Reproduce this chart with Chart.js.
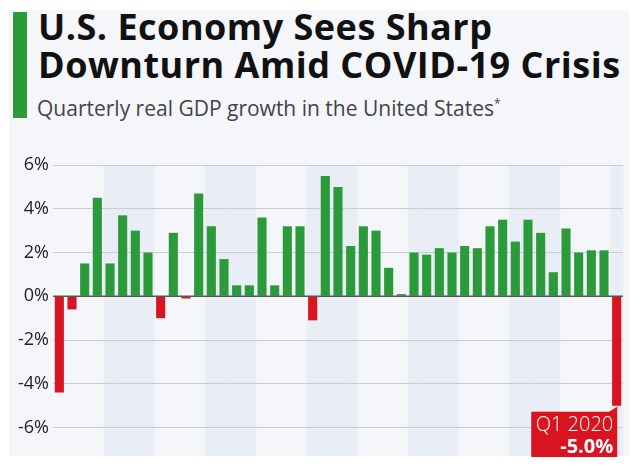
<!DOCTYPE html>
<html>
<head>
<meta charset="utf-8">
<script src="https://cdn.jsdelivr.net/npm/chart.js@4"></script>
<style>
  html, body { margin: 0; padding: 0; background: #fff; }
  body { width: 640px; height: 467px; position: relative; overflow: hidden; font-family: "Open Sans", sans-serif; }
  #card { position: absolute; left: 9px; top: 10px; width: 620px; height: 446px; background: #f4f6fa; }
  #bar { position: absolute; left: 13px; top: 12px; width: 14px; height: 106px; background: #2b9a3a; }
  #title { position: absolute; left: 38px; top: 8px; margin: 0; font-weight: 700; font-size: 36px; line-height: 38px; color: #111; letter-spacing: 0.5px; white-space: nowrap; }
  #subtitle { position: absolute; left: 37px; top: 94px; margin: 0; font-weight: 400; font-size: 21px; color: #444; white-space: nowrap; }
  #subtitle sup { font-size: 12px; vertical-align: 8px; }
  #wrap { position: absolute; left: 0; top: 130px; width: 640px; height: 337px; }
</style>
</head>
<body>
<div id="card"></div>
<div id="bar"></div>
<h1 id="title">U.S. Economy Sees Sharp<br>Downturn Amid COVID-19 Crisis</h1>
<p id="subtitle">Quarterly real GDP growth in the United States<sup>*</sup></p>
<div id="wrap"><canvas id="gdp-chart"></canvas></div>
<script>
// quarters from Q1 2009 to Q1 2020
const years = [2009, 2010, 2011, 2012, 2013, 2014, 2015, 2016, 2017, 2018, 2019, 2020];
const quarters = [];
years.forEach((y) => {
  ["Q1", "Q2", "Q3", "Q4"].forEach((q) => {
    if (quarters.length < 45) quarters.push(q + " " + y);
  });
});

const growth = [
  -4.4, -0.6, 1.5, 4.5,
  1.5, 3.7, 3.0, 2.0,
  -1.0, 2.9, -0.1, 4.7,
  3.2, 1.7, 0.5, 0.5,
  3.6, 0.5, 3.2, 3.2,
  -1.1, 5.5, 5.0, 2.3,
  3.2, 3.0, 1.3, 0.1,
  2.0, 1.9, 2.2, 2.0,
  2.3, 2.2, 3.2, 3.5,
  2.5, 3.5, 2.9, 1.1,
  3.1, 2.0, 2.1, 2.1,
  -5.0,
];

const yTicks = [-6, -4, -2, 0, 2, 4, 6];
const shadedYears = [2010, 2012, 2014, 2016, 2018, 2020];

const green = "#2b9a3a";
const red = "#d7141f";

// alternating year bands behind the bars
const bandPlugin = {
  id: "bands",
  beforeDraw(chart) {
    const { ctx, chartArea, scales } = chart;
    const x = scales.x;
    const half = (x.getPixelForValue(1) - x.getPixelForValue(0)) / 2;
    ctx.save();
    ctx.fillStyle = "#e9edf5";
    quarters.forEach((q, i) => {
      const yr = parseInt(q.split(" ")[1]);
      if (shadedYears.includes(yr)) {
        const left = x.getPixelForValue(i) - half;
        ctx.fillRect(left, chartArea.top, half * 2 + 0.5, chartArea.bottom - chartArea.top);
      }
    });
    ctx.restore();
  },
  afterDatasetsDraw(chart) {
    const { ctx, chartArea, scales } = chart;
    const y0 = scales.y.getPixelForValue(0);
    ctx.save();
    ctx.strokeStyle = "#555";
    ctx.lineWidth = 1.5;
    ctx.beginPath();
    ctx.moveTo(chartArea.left, y0);
    ctx.lineTo(chartArea.right, y0);
    ctx.stroke();

    // callout for the last quarter
    const last = growth.length - 1;
    const bar = chart.getDatasetMeta(0).data[last];
    const right = bar.x + bar.width / 2 - 4;
    const top = bar.y + 6;
    const w = 86;
    const h = chartArea.bottom - top + 1;
    ctx.fillStyle = red;
    ctx.fillRect(right - w, top, w, h);
    ctx.beginPath();
    ctx.moveTo(right - 9, top + 0.5);
    ctx.lineTo(right, top - 5);
    ctx.lineTo(right, top + 0.5);
    ctx.closePath();
    ctx.fill();
    ctx.fillStyle = "#fff";
    ctx.textAlign = "right";
    ctx.textBaseline = "alphabetic";
    ctx.font = "300 20px 'Open Sans'";
    ctx.fillText(quarters[last], right - 4, top + 19);
    ctx.font = "700 20px 'Open Sans'";
    ctx.fillText(growth[last].toFixed(1) + "%", right - 4, top + 41);
    ctx.restore();
  },
};

new Chart(document.querySelector("#gdp-chart").getContext("2d"), {
  type: "bar",
  data: {
    labels: quarters,
    datasets: [
      {
        label: "Real GDP growth",
        data: growth,
        backgroundColor: growth.map((v) => (v < 0 ? red : green)),
        barPercentage: 0.72,
        categoryPercentage: 1,
      },
    ],
  },
  options: {
    responsive: true,
    maintainAspectRatio: false,
    animation: false,
    layout: { padding: { top: 35, right: 17, bottom: 11, left: 0 } },
    plugins: {
      legend: { display: false },
      tooltip: { enabled: false },
    },
    scales: {
      x: {
        display: false,
        grid: { display: false },
      },
      y: {
        min: -7.3,
        max: 6,
        afterBuildTicks: (axis) => {
          axis.ticks = yTicks.map((v) => ({ value: v }));
        },
        afterFit: (axis) => {
          axis.width = 53;
          axis.paddingTop = 0;
          axis.paddingBottom = 0;
        },
        border: { display: false },
        grid: {
          color: "#c9cdd3",
          lineWidth: 1,
          drawTicks: false,
        },
        ticks: {
          padding: 4,
          color: "#222",
          font: { family: "'Open Sans'", size: 18, weight: 400 },
          callback: (v) => v + "%",
        },
      },
    },
  },
  plugins: [bandPlugin],
});
</script>
</body>
</html>
